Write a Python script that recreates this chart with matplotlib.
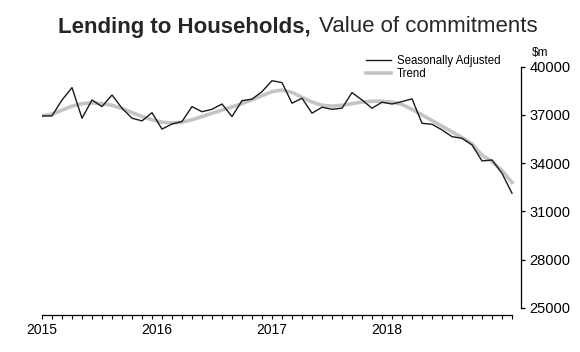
import numpy as np
import matplotlib.pyplot as plt

plt.rcParams['font.family'] = ['Liberation Sans', 'DejaVu Sans']

# monthly values, Jan 2015 - Dec 2018 ($m)
seasonally_adjusted = [36940, 36940, 37930, 38700, 36800, 37930, 37520, 38240,
                       37420, 36800, 36630, 37140, 36120, 36440, 36590, 37520,
                       37200, 37350, 37680, 36900, 37890, 37980, 38450, 39130,
                       39010, 37730, 38040, 37110, 37480, 37350, 37420, 38390,
                       37930, 37420, 37790, 37680, 37830, 38000, 36480, 36420,
                       36070, 35650, 35550, 35140, 34140, 34200, 33370, 32130]
trend = [36950, 37050, 37300, 37550, 37700, 37750, 37700, 37600,
         37400, 37150, 36900, 36700, 36550, 36500, 36550, 36700,
         36900, 37100, 37300, 37500, 37700, 37950, 38200, 38450,
         38550, 38400, 38100, 37800, 37600, 37550, 37600, 37700,
         37800, 37850, 37850, 37800, 37650, 37350, 37000, 36650,
         36300, 35950, 35600, 35200, 34500, 34100, 33550, 32800]
years = ['2015', '2016', '2017', '2018']
year_pos = [0, 11.5, 23, 34.5]
y_ticks = [25000, 28000, 31000, 34000, 37000, 40000]

months = np.arange(len(seasonally_adjusted))

fig = plt.figure(figsize=(5.8, 3.52), dpi=100)
ax = fig.add_axes([42/580, 1-315/352, (521-42)/580, (315-66.7)/352])

ax.plot(months, trend, color='#c4c4c4', lw=2.6, label='Trend', zorder=2)
ax.plot(months, seasonally_adjusted, color='#1a1a1a', lw=1.0,
        label='Seasonally Adjusted', zorder=3)

ax.set_xlim(0, 47.9)
ax.set_ylim(24560, 40000)

for s in ['top', 'left']:
    ax.spines[s].set_visible(False)
ax.spines['right'].set_bounds(25000, 40000)
ax.spines['bottom'].set_bounds(0, 47)
ax.spines['right'].set_linewidth(0.9)
ax.spines['bottom'].set_linewidth(0.9)

ax.yaxis.tick_right()
ax.set_yticks(y_ticks)
ax.set_yticklabels([str(v) for v in y_ticks])
ax.tick_params(axis='y', length=3, width=0.9, pad=3, labelsize=10.5)

# month ticks as minor, year labels as major (no tick mark)
ax.xaxis.remove_overlapping_locs = False
ax.set_xticks(months, minor=True)
ax.set_xticks(year_pos)
ax.set_xticklabels(years)
ax.tick_params(axis='x', which='minor', length=3, width=0.8)
ax.tick_params(axis='x', which='major', length=0, pad=6, labelsize=10)

fig.text(540/580, 1-53/352, '\\$m', ha='center', va='center', fontsize=8.5)

fig.text(311/580, 1-27/352, 'Lending to Households,', ha='right', va='center',
         fontsize=16, fontweight='bold', color='#262626')
fig.text(319/580, 1-27/352, 'Value of commitments', ha='left', va='center',
         fontsize=16, color='#262626')

handles, labels = ax.get_legend_handles_labels()
ax.legend(handles[::-1], labels[::-1], loc='upper left',
          bbox_to_anchor=(366/580, 1-55/352), bbox_transform=fig.transFigure,
          frameon=False, fontsize=8.3, handlelength=2.2, handletextpad=0.5,
          labelspacing=0.1, borderpad=0, borderaxespad=0)

fig.savefig('out.png', dpi=100)
